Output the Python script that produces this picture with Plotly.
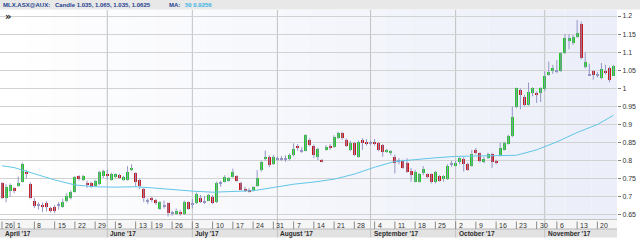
import pandas as pd
import plotly.graph_objects as go

# ---------------- data ----------------
holidays = ["2017-06-12"]
dates = [d for d in pd.bdate_range("2017-04-26", "2017-11-24") if d.strftime("%Y-%m-%d") not in holidays]

opens = [0.738,0.697,0.717,0.724,0.730,0.742,0.768,0.735,0.690,0.678,0.678,0.682,0.668,0.672,0.678,0.673,0.689,0.696,0.714,0.757,
         0.747,0.738,0.739,0.730,0.735,0.757,0.764,0.748,0.756,0.760,0.748,0.748,0.776,0.765,0.747,0.722,0.689,0.697,0.691,0.666,
         0.676,0.682,0.655,0.654,0.658,0.652,0.685,0.681,0.682,0.696,0.686,0.690,0.701,0.685,0.738,0.742,0.745,0.756,0.757,0.738,
         0.722,0.720,0.719,0.730,0.774,0.805,0.811,0.791,0.806,0.805,0.806,0.805,0.816,0.841,0.828,0.828,0.857,0.842,0.811,0.802,
         0.832,0.842,0.837,0.862,0.878,0.857,0.830,0.848,0.811,0.857,0.853,0.850,0.853,0.848,0.843,0.825,0.822,0.811,0.798,0.799,
         0.793,0.772,0.742,0.742,0.765,0.762,0.762,0.740,0.757,0.749,0.749,0.792,0.786,0.796,0.805,0.790,0.786,0.830,0.820,0.797,
         0.807,0.818,0.800,0.816,0.831,0.847,0.868,0.948,0.995,0.976,0.955,0.987,0.987,0.987,0.998,1.037,1.048,1.048,1.049,1.097,
         1.132,1.125,1.143,1.177,1.059,1.038,1.047,1.037,1.028,1.048,1.057,1.035]
highs = [0.741,0.735,0.737,0.727,0.756,0.795,0.775,0.740,0.697,0.685,0.684,0.688,0.673,0.678,0.686,0.695,0.710,0.718,0.758,0.760,
         0.761,0.745,0.742,0.748,0.772,0.775,0.775,0.767,0.765,0.764,0.758,0.785,0.790,0.768,0.750,0.725,0.696,0.700,0.695,0.688,
         0.690,0.685,0.662,0.668,0.664,0.690,0.688,0.694,0.712,0.705,0.702,0.708,0.705,0.742,0.745,0.760,0.755,0.778,0.760,0.742,
         0.728,0.724,0.730,0.774,0.800,0.828,0.815,0.816,0.812,0.813,0.815,0.820,0.848,0.846,0.837,0.873,0.862,0.845,0.836,0.805,
         0.843,0.846,0.870,0.880,0.880,0.862,0.855,0.852,0.856,0.862,0.860,0.856,0.860,0.852,0.846,0.833,0.829,0.817,0.807,0.803,
         0.807,0.780,0.775,0.766,0.785,0.765,0.765,0.772,0.760,0.760,0.790,0.800,0.800,0.810,0.810,0.795,0.830,0.835,0.823,0.810,
         0.822,0.822,0.803,0.850,0.853,0.872,0.950,1.002,1.000,0.982,1.016,1.003,0.992,1.003,1.047,1.074,1.065,1.078,1.100,1.150,
         1.150,1.148,1.189,1.185,1.100,1.068,1.050,1.045,1.070,1.065,1.060,1.065]
lows = [0.694,0.685,0.700,0.710,0.728,0.740,0.750,0.695,0.669,0.665,0.658,0.660,0.657,0.655,0.665,0.670,0.685,0.693,0.712,0.745,
        0.744,0.725,0.725,0.728,0.732,0.752,0.748,0.745,0.752,0.750,0.745,0.745,0.772,0.728,0.722,0.685,0.680,0.685,0.678,0.664,
        0.668,0.646,0.648,0.650,0.648,0.650,0.664,0.668,0.680,0.683,0.680,0.688,0.680,0.683,0.728,0.740,0.742,0.753,0.742,0.718,
        0.714,0.712,0.715,0.728,0.770,0.800,0.782,0.788,0.800,0.800,0.797,0.800,0.812,0.828,0.822,0.826,0.840,0.807,0.802,0.795,
        0.828,0.830,0.835,0.860,0.858,0.838,0.826,0.813,0.808,0.830,0.842,0.843,0.842,0.826,0.811,0.822,0.815,0.765,0.790,0.778,
        0.767,0.742,0.740,0.740,0.760,0.752,0.737,0.737,0.742,0.742,0.747,0.783,0.784,0.790,0.770,0.772,0.783,0.817,0.795,0.793,
        0.805,0.780,0.790,0.812,0.828,0.845,0.865,0.945,0.942,0.950,0.952,0.978,0.960,0.962,0.993,1.035,1.040,1.042,1.045,1.095,
        1.108,1.120,1.140,1.080,1.055,1.035,1.024,1.030,1.025,1.038,1.017,1.035]
closes = [0.697,0.728,0.733,0.716,0.738,0.791,0.762,0.697,0.676,0.677,0.672,0.671,0.661,0.660,0.677,0.685,0.703,0.714,0.756,0.750,
          0.758,0.733,0.728,0.745,0.768,0.772,0.758,0.762,0.762,0.752,0.754,0.768,0.781,0.742,0.730,0.697,0.688,0.691,0.682,0.685,
          0.677,0.655,0.656,0.662,0.652,0.685,0.666,0.683,0.707,0.686,0.685,0.705,0.682,0.738,0.737,0.756,0.752,0.768,0.744,0.720,
          0.718,0.716,0.726,0.751,0.797,0.811,0.789,0.811,0.805,0.806,0.805,0.816,0.832,0.835,0.827,0.871,0.844,0.816,0.832,0.797,
          0.837,0.837,0.866,0.878,0.862,0.841,0.848,0.816,0.853,0.848,0.846,0.849,0.845,0.830,0.823,0.830,0.826,0.793,0.800,0.781,
          0.770,0.761,0.768,0.763,0.777,0.756,0.740,0.768,0.744,0.757,0.786,0.793,0.793,0.807,0.790,0.775,0.818,0.821,0.800,0.806,
          0.819,0.797,0.793,0.834,0.848,0.868,0.921,1.000,0.983,0.955,0.989,1.000,0.981,1.000,1.033,1.044,1.055,1.049,1.097,1.138,
          1.138,1.143,1.152,1.083,1.074,1.037,1.038,1.038,1.053,1.042,1.022,1.0625]

ma_dates = ["2017-04-26","2017-05-01","2017-05-08","2017-05-15","2017-05-22","2017-05-29","2017-06-05","2017-06-13",
            "2017-06-19","2017-06-26","2017-07-03","2017-07-10","2017-07-17","2017-07-24","2017-07-31","2017-08-07",
            "2017-08-14","2017-08-21","2017-08-28","2017-09-04","2017-09-11","2017-09-18","2017-09-25","2017-10-02",
            "2017-10-09","2017-10-16","2017-10-23","2017-10-30","2017-11-06","2017-11-13","2017-11-20","2017-11-24"]
ma_values = [0.786,0.781,0.764,0.747,0.733,0.728,0.727,0.728,0.725,0.720,0.716,0.713,0.714,0.717,0.726,0.735,
             0.741,0.749,0.763,0.782,0.798,0.804,0.808,0.812,0.814,0.814,0.815,0.830,0.852,0.878,0.900,0.9256]

month_names = ["April '17","June '17","July '17","August '17","September '17","October '17","November '17"]
month_dates = ["2017-04-26","2017-06-01","2017-07-03","2017-08-01","2017-09-01","2017-10-02","2017-11-01"]

y_ticks = [0.65,0.7,0.75,0.8,0.85,0.9,0.95,1.0,1.05,1.1,1.15,1.2]
y_ticktext = ["0.65","0.7","0.75","0.8","0.85","0.9","0.95","1","1.05","1.1","1.15","1.2"]

# ---------------- helpers ----------------
dstr = [d.strftime("%Y-%m-%d") for d in dates]
idx = {s: i for i, s in enumerate(dstr)}
n = len(dates)
xs = list(range(n))

W, H = 640, 247
ML, MR, MT, MB = 0, 23, 10, 28
PW = W - ML - MR
PH = H - MT - MB
def py(p):  # pixel y -> paper
    return (H - MB - p) / PH
def px(p):  # pixel x -> paper
    return (p - ML) / PW

# week ticks: first trading day of each week
week_idx = []
seen = set()
for i, d in enumerate(dates):
    k = d.isocalendar()[:2]
    if k not in seen:
        seen.add(k)
        week_idx.append(i)

WICK = "#9497c6"
GREEN = "#22c922"
RED = "#c81818"

# wicks
wx, wy = [], []
for i in xs:
    wx += [i, i, None]
    wy += [lows[i], highs[i], None]

base, hgt, cols = [], [], []
for i in xs:
    o, c = opens[i], closes[i]
    d = c - o
    if abs(d) < 0.0025:
        base.append(min(o, c) - 0.0012); hgt.append(0.0028); cols.append(WICK)
    else:
        base.append(min(o, c)); hgt.append(abs(d)); cols.append(GREEN if d > 0 else RED)

fig = go.Figure()
fig.add_trace(go.Scatter(x=wx, y=wy, mode="lines", line=dict(color=WICK, width=1), hoverinfo="skip"))
fig.add_trace(go.Bar(x=xs, y=hgt, base=base, width=0.74, marker=dict(color=cols, line=dict(width=0))))
fig.add_trace(go.Scatter(x=[idx[d] for d in ma_dates], y=ma_values, mode="lines",
                         line=dict(color="#62c6e8", width=1), hoverinfo="skip"))

shapes = []
# background gradient (white -> light lavender)
N = 24
for k in range(N):
    t = k / (N - 1)
    r = int(255 - t * (255 - 236)); g = int(255 - t * (255 - 239)); b = int(255 - t * (255 - 249))
    shapes.append(dict(type="rect", xref="paper", yref="paper", x0=k / N, x1=(k + 1) / N, y0=0, y1=1,
                       fillcolor=f"rgb({r},{g},{b})", line=dict(width=0), layer="below"))
# header bar
shapes.append(dict(type="rect", xref="paper", yref="paper", x0=0, x1=px(W), y0=py(9.5), y1=py(0),
                   fillcolor="#e8e8e8", line=dict(width=0), layer="below"))
# tick row and month row
shapes.append(dict(type="rect", xref="paper", yref="paper", x0=0, x1=1, y0=py(229), y1=py(219),
                   fillcolor="#f6f6f6", line=dict(width=0), layer="below"))
shapes.append(dict(type="rect", xref="paper", yref="paper", x0=0, x1=1, y0=py(237.5), y1=py(229),
                   fillcolor="#e2e2e2", line=dict(width=0), layer="below"))
for yy, c in [(219.5, "#c4c4c4"), (229, "#b8b8b8")]:
    shapes.append(dict(type="line", xref="paper", yref="paper", x0=0, x1=1, y0=py(yy), y1=py(yy),
                       line=dict(color=c, width=1), layer="below"))
# month lines
for md in month_dates[1:]:
    i = idx[md]
    shapes.append(dict(type="line", xref="x", yref="paper", x0=i, x1=i, y0=py(237.5), y1=1,
                       line=dict(color="#c2c2c2", width=1), layer="below"))
# week tick marks
for i in week_idx:
    shapes.append(dict(type="line", xref="x", yref="paper", x0=i, x1=i, y0=py(229), y1=py(221.5),
                       line=dict(color="#8c8c8c", width=1), layer="below"))

ann = []
for i in week_idx:
    ann.append(dict(x=i, y=py(225.5), xref="x", yref="paper", text=str(dates[i].day), showarrow=False,
                    xanchor="left", yanchor="middle", xshift=1,
                    font=dict(family="Liberation Sans", size=7, color="#333333")))
for name, md in zip(month_names, month_dates):
    ann.append(dict(x=idx[md], y=py(233.5), xref="x", yref="paper", text="<b>" + name + "</b>", showarrow=False,
                    xanchor="left", yanchor="middle", xshift=1,
                    font=dict(family="Liberation Sans", size=6.5, color="#2a2a2a")))
HDR = "#263f8e"
for txt, x0, col in [("MLX.ASX@AUX:", 1, HDR), ("Candle 1.035, 1.065, 1.035, 1.0625", 53, HDR),
                     ("MA:", 167, HDR), ("50 0.9256", 183, "#38b4e4")]:
    ann.append(dict(x=px(x0), y=py(5), xref="paper", yref="paper", text="<b>" + txt + "</b>", showarrow=False,
                    xanchor="left", yanchor="middle", font=dict(family="Liberation Sans", size=6, color=col)))
ann.append(dict(x=px(3), y=py(16), xref="paper", yref="paper", text="<b>»</b>", showarrow=False,
                xanchor="left", yanchor="middle", font=dict(family="DejaVu Sans", size=10, color="#222222")))

fig.update_layout(
    width=W, height=H, margin=dict(l=ML, r=MR, t=MT, b=MB, pad=0),
    paper_bgcolor="white", plot_bgcolor="white", showlegend=False, barmode="overlay", bargap=0,
    shapes=shapes, annotations=ann,
    xaxis=dict(range=[-0.494, 151.85], showgrid=False, zeroline=False, showticklabels=False, ticks="",
               showline=False, fixedrange=True),
    yaxis=dict(side="right", range=[0.6389, 1.2166], tickvals=y_ticks, ticktext=y_ticktext,
               ticks="outside", ticklen=3, tickcolor="#7a7a7a", gridcolor="#d2d2d2", gridwidth=1,
               zeroline=False, showline=False, automargin=False,
               tickfont=dict(family="Liberation Sans", size=7, color="#333333"), fixedrange=True),
)
fig.write_html("out.html")
